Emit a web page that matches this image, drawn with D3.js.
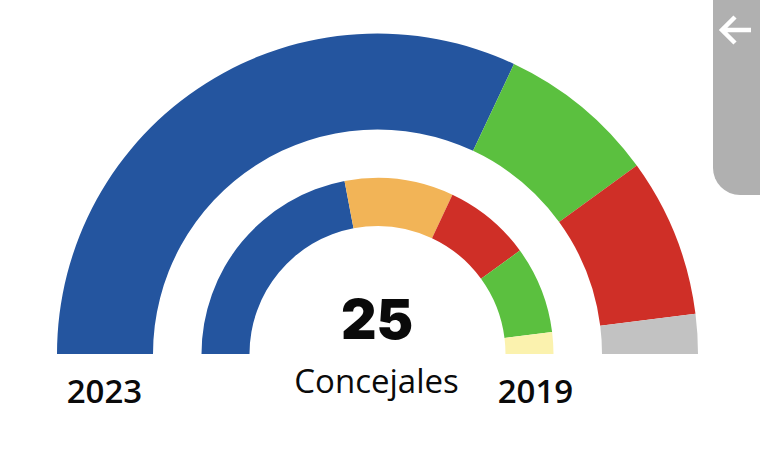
<!DOCTYPE html>
<html>
<head>
<meta charset="utf-8">
<script src="https://cdnjs.cloudflare.com/ajax/libs/d3/7.8.5/d3.min.js"></script>
<style>
	html, body { margin: 0; padding: 0; background: #fff; }
	svg { display: block; }
	text { fill: #0a0a0a; }
</style>
</head>
<body>
<div id="chart"></div>
<script>
// seats per party, left to right
var seats2023 = [16, 4, 4, 1],
	colors2023 = ['#24559f', '#5bc03f', '#cf2f27', '#c2c2c2'],
	seats2019 = [11, 5, 4, 4, 1],
	colors2019 = ['#24559f', '#f2b457', '#cf2f27', '#5bc03f', '#fbf2ae'],
	totalSeats = 25,
	totalLabel = 'Concejales',
	yearLabels = ['2023', '2019'];

var width = 760,
	height = 460,
	cx = 377.5,
	cy = 354;

var svg = d3.select('#chart').append('svg')
	.attr('width', width)
	.attr('height', height);

var pie = d3.pie()
	.sort(null)
	.startAngle(-Math.PI / 2)
	.endAngle(Math.PI / 2);

// draw one half ring
function ring(values, colors, inner, outer) {
	var arc = d3.arc().innerRadius(inner).outerRadius(outer);

	svg.append('g')
		.attr('transform', 'translate(' + cx + ',' + cy + ')')
		.selectAll('path')
		.data(pie(values))
		.enter().append('path')
		.attr('d', arc)
		.attr('fill', function(d, i) { return colors[i]; });
}

ring(seats2023, colors2023, 224.5, 320.5);
ring(seats2019, colors2019, 128, 176);

// labels
svg.append('text')
	.attr('x', 377)
	.attr('y', 339)
	.attr('text-anchor', 'middle')
	.style('font', '900 55px "Inter"')
	.text(totalSeats);

svg.append('text')
	.attr('x', 376.5)
	.attr('y', 393)
	.attr('text-anchor', 'middle')
	.style('font', '400 33px "Open Sans"')
	.text(totalLabel);

svg.selectAll('.year')
	.data(yearLabels)
	.enter().append('text')
	.attr('class', 'year')
	.attr('x', function(d, i) { return i ? 535.5 : 104.5; })
	.attr('y', 403)
	.attr('text-anchor', 'middle')
	.style('font', '600 33px "Open Sans"')
	.text(function(d) { return d; });

// back tab, top right
svg.append('path')
	.attr('d', 'M713,0V168A27,27 0 0 0 740,195H760V0Z')
	.attr('fill', '#b0b0b0');

svg.append('path')
	.attr('d', 'M751,30H722M735,17L722,30L735,43')
	.attr('fill', 'none')
	.attr('stroke', '#fff')
	.attr('stroke-width', 4.5);
</script>
</body>
</html>
